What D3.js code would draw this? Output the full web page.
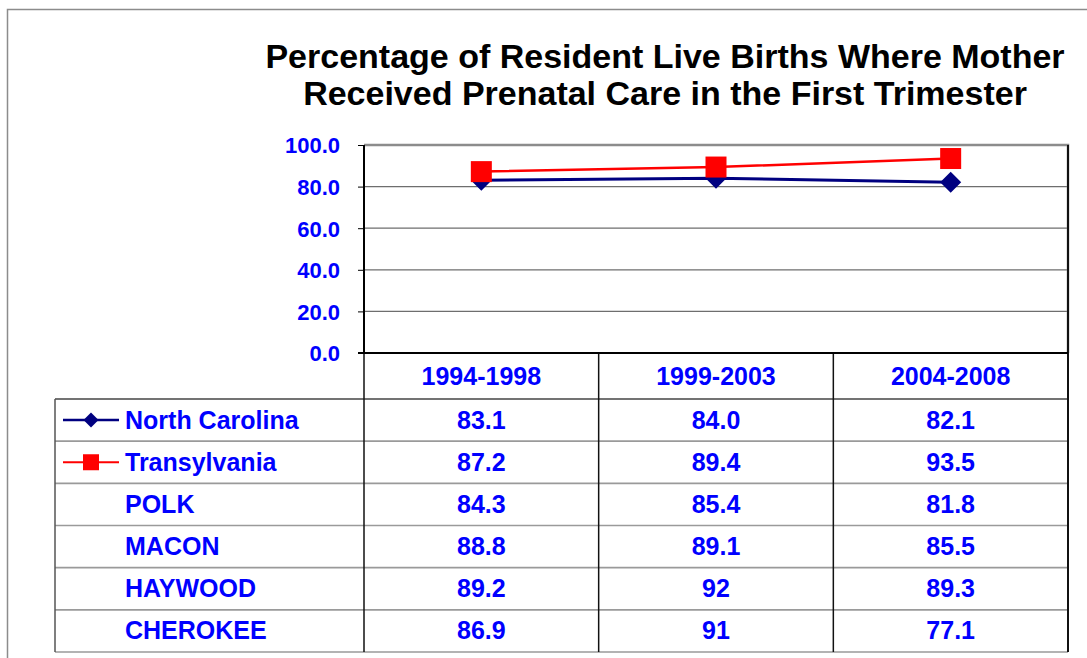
<!DOCTYPE html>
<html>
<head>
<meta charset="utf-8">
<script src="https://cdn.jsdelivr.net/npm/d3@7/dist/d3.min.js"></script>
<style>
  body { margin: 0; background: #fff; }
  svg { display: block; }
  text { font-family: "Liberation Sans", Arial, sans-serif; font-weight: bold; }
</style>
</head>
<body>
<svg id="chart" width="1087" height="658"></svg>
<script>
// ---- data ----
const titleLines = ["Percentage of Resident Live Births Where Mother", "Received Prenatal Care in the First Trimester"];
const periods = ["1994-1998", "1999-2003", "2004-2008"];
const seriesNames = ["North Carolina", "Transylvania", "POLK", "MACON", "HAYWOOD", "CHEROKEE"];
const northCarolina = ["83.1", "84.0", "82.1"];
const transylvania = ["87.2", "89.4", "93.5"];
const polk = ["84.3", "85.4", "81.8"];
const macon = ["88.8", "89.1", "85.5"];
const haywood = ["89.2", "92", "89.3"];
const cherokee = ["86.9", "91", "77.1"];
const yTicks = [0, 20, 40, 60, 80, 100];

const tableRows = [northCarolina, transylvania, polk, macon, haywood, cherokee];
const plotted = [
  { name: "North Carolina", values: northCarolina, color: "#000080", shape: "diamond", width: 3 },
  { name: "Transylvania", values: transylvania, color: "#FF0000", shape: "square", width: 2.5 }
];

// ---- layout ----
const svg = d3.select("#chart");
const L = 364, R = 1068, T = 145, B = 353;
const tableLeft = 55, headerBottom = 399, tableBottom = 652;
const blue = "#0000FF";
const tableFont = 25;

const x = d3.scaleBand().domain(periods).range([L, R]);
const y = d3.scaleLinear().domain([0, 100]).range([B, T]);
const rowY = d3.scaleBand().domain(seriesNames).range([headerBottom, tableBottom]);

// outer frame
svg.append("rect").attr("x", 7.5).attr("y", 9.5).attr("width", 1100).attr("height", 700)
  .attr("fill", "none").attr("stroke", "#8c8c8c").attr("stroke-width", 1.5);

// title
svg.append("g").selectAll("text").data(titleLines).join("text")
  .attr("x", 665).attr("y", (d, i) => 68 + i * 37)
  .attr("text-anchor", "middle").attr("font-size", 34).attr("fill", "#000")
  .text(d => d);

// gridlines
svg.append("g").selectAll("line").data(yTicks.filter(t => t > 0 && t < 100)).join("line")
  .attr("x1", L).attr("x2", R).attr("y1", d => y(d)).attr("y2", d => y(d))
  .attr("stroke", "#6e6e6e").attr("stroke-width", 1.2);

// plot border top/right
svg.append("path")
  .attr("d", `M${L},${T}H${R}V${B}`)
  .attr("fill", "none").attr("stroke", "#8c8c8c").attr("stroke-width", 2.5);

// y axis
const yAxis = d3.axisLeft(y).tickValues(yTicks).tickFormat(d3.format(".1f")).tickSize(6).tickPadding(18);
const gy = svg.append("g").attr("transform", `translate(${L},0)`).call(yAxis);
gy.select(".domain").remove();
gy.selectAll(".tick line").attr("stroke", "#000").attr("stroke-width", 1);
gy.selectAll(".tick text").attr("fill", blue).attr("font-size", 22)
  .attr("font-family", '"Liberation Sans", Arial, sans-serif').attr("font-weight", "bold")
  .attr("dy", "0.36em");

// table grid: horizontal row separators
const rowEdges = [headerBottom].concat(seriesNames.map(n => rowY(n) + rowY.bandwidth()));
svg.append("g").selectAll("line").data(rowEdges).join("line")
  .attr("x1", tableLeft).attr("x2", R).attr("y1", d => d).attr("y2", d => d)
  .attr("stroke", (d, i) => i === 0 ? "#444" : "#9a9a9a").attr("stroke-width", 1.6);

// vertical column separators
const colEdges = periods.map(p => x(p)).concat([R]);
svg.append("g").selectAll("line").data(colEdges).join("line")
  .attr("x1", d => d).attr("x2", d => d)
  .attr("y1", (d, i) => i === colEdges.length - 1 ? T : B).attr("y2", tableBottom)
  .attr("stroke", "#111").attr("stroke-width", (d, i) => i === colEdges.length - 1 ? 2 : 1.5);

// legend column left edge
svg.append("line").attr("x1", tableLeft).attr("x2", tableLeft)
  .attr("y1", headerBottom).attr("y2", tableBottom)
  .attr("stroke", "#555").attr("stroke-width", 1.5);

// axes lines (left, bottom)
svg.append("line").attr("x1", L).attr("x2", L).attr("y1", T).attr("y2", B)
  .attr("stroke", "#000").attr("stroke-width", 2);
svg.append("line").attr("x1", L - 6).attr("x2", R).attr("y1", B).attr("y2", B)
  .attr("stroke", "#000").attr("stroke-width", 2);

// header labels
svg.append("g").selectAll("text").data(periods).join("text")
  .attr("x", d => x(d) + x.bandwidth() / 2).attr("y", 385)
  .attr("text-anchor", "middle").attr("font-size", tableFont).attr("fill", blue)
  .text(d => d);

// table values
const rows = svg.append("g").selectAll("g").data(tableRows).join("g")
  .attr("transform", (d, i) => `translate(0,${rowY(seriesNames[i]) + rowY.bandwidth() / 2 + 8.5})`);
rows.selectAll("text").data(d => d).join("text")
  .attr("x", (d, j) => x(periods[j]) + x.bandwidth() / 2)
  .attr("text-anchor", "middle").attr("font-size", tableFont).attr("fill", blue)
  .text(d => d);

// row names
svg.append("g").selectAll("text").data(seriesNames).join("text")
  .attr("x", 125).attr("y", d => rowY(d) + rowY.bandwidth() / 2 + 8.5)
  .attr("font-size", tableFont).attr("fill", blue)
  .text(d => d);

// markers
function drawMarker(g, s, cx, cy, size) {
  if (s.shape === "square") {
    g.append("rect").attr("x", cx - size / 2).attr("y", cy - size / 2)
      .attr("width", size).attr("height", size).attr("fill", s.color);
  } else {
    const h = size / 2;
    g.append("path").attr("d", `M${cx},${cy - h}L${cx + h},${cy}L${cx},${cy + h}L${cx - h},${cy}Z`)
      .attr("fill", s.color);
  }
}

// lines + markers (navy first, red on top)
const line = d3.line().x((d, i) => x(periods[i]) + x.bandwidth() / 2).y(d => y(+d));
plotted.forEach(s => {
  const g = svg.append("g");
  g.append("path").datum(s.values).attr("d", line)
    .attr("fill", "none").attr("stroke", s.color).attr("stroke-width", s.width);
  s.values.forEach((v, i) => drawMarker(g, s, x(periods[i]) + x.bandwidth() / 2, y(+v), 21));
});

// legend keys in table
plotted.forEach(s => {
  const cy = rowY(s.name) + rowY.bandwidth() / 2;
  const g = svg.append("g");
  g.append("line").attr("x1", 63).attr("x2", 119).attr("y1", cy).attr("y2", cy)
    .attr("stroke", s.color).attr("stroke-width", s.width - 0.5);
  drawMarker(g, s, 91, cy, s.shape === "square" ? 16 : 15);
});
</script>
</body>
</html>
